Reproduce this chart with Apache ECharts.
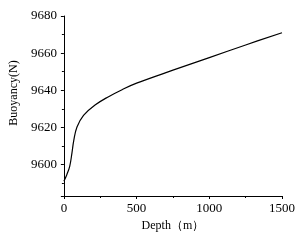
<!DOCTYPE html>
<html><head><meta charset="utf-8">
<script src="https://cdn.jsdelivr.net/npm/echarts@6/dist/echarts.min.js"></script>
<style>html,body{margin:0;padding:0;background:#fff}#c{width:306px;height:246px}</style>
</head><body><div id="c"></div>
<script>
var depth = [0, 20, 40, 55, 68, 90, 135, 214, 304, 400, 500, 750, 1000, 1250, 1500];
var buoyancy = [9591.0, 9594.5, 9599.0, 9606.0, 9613.0, 9620.2, 9626.5, 9632.0, 9636.4, 9640.3, 9643.8, 9650.8, 9657.6, 9664.4, 9671.0];
var xName = 'Depth（m）';
var yName = 'Buoyancy(N)';
var serif = '"Liberation Serif","Times New Roman",serif';
var chart = echarts.init(document.getElementById('c'));
var pts = depth.map(function(d, i){ return [d, buoyancy[i]]; });
function plain(v){ return String(v); }
chart.setOption({
  animation: false,
  grid: {left: 60, right: 24, top: 16, bottom: 50},
  xAxis: {
    type: 'value', min: 0, max: 1500, interval: 500,
    name: xName, nameLocation: 'middle', nameGap: 21,
    nameTextStyle: {fontFamily: serif, fontSize: 12, color: '#000'},
    axisLine: {show: true, lineStyle: {color: '#000', width: 1}},
    axisTick: {show: true, length: 3, lineStyle: {color: '#000'}},
    minorTick: {show: true, splitNumber: 2, length: 2, lineStyle: {color: '#000'}},
    splitLine: {show: false},
    axisLabel: {fontFamily: serif, fontSize: 13, color: '#000', margin: 6, formatter: plain}
  },
  yAxis: {
    type: 'value', min: 9583, max: 9680, splitNumber: 5,
    name: yName, nameLocation: 'middle', nameGap: 42,
    nameTextStyle: {fontFamily: serif, fontSize: 12, color: '#000', padding: [0, 0, 0, 26]},
    axisLine: {show: true, lineStyle: {color: '#000', width: 1}},
    axisTick: {show: true, length: 3, lineStyle: {color: '#000'}},
    minorTick: {show: true, splitNumber: 2, length: 2, lineStyle: {color: '#000'}},
    splitLine: {show: false},
    axisLabel: {fontFamily: serif, fontSize: 13, color: '#000', margin: 7, showMinLabel: false, formatter: plain}
  },
  series: [{
    type: 'line', data: pts, smooth: 0.4, showSymbol: false,
    lineStyle: {color: '#000', width: 1.2}
  }]
});
</script></body></html>
